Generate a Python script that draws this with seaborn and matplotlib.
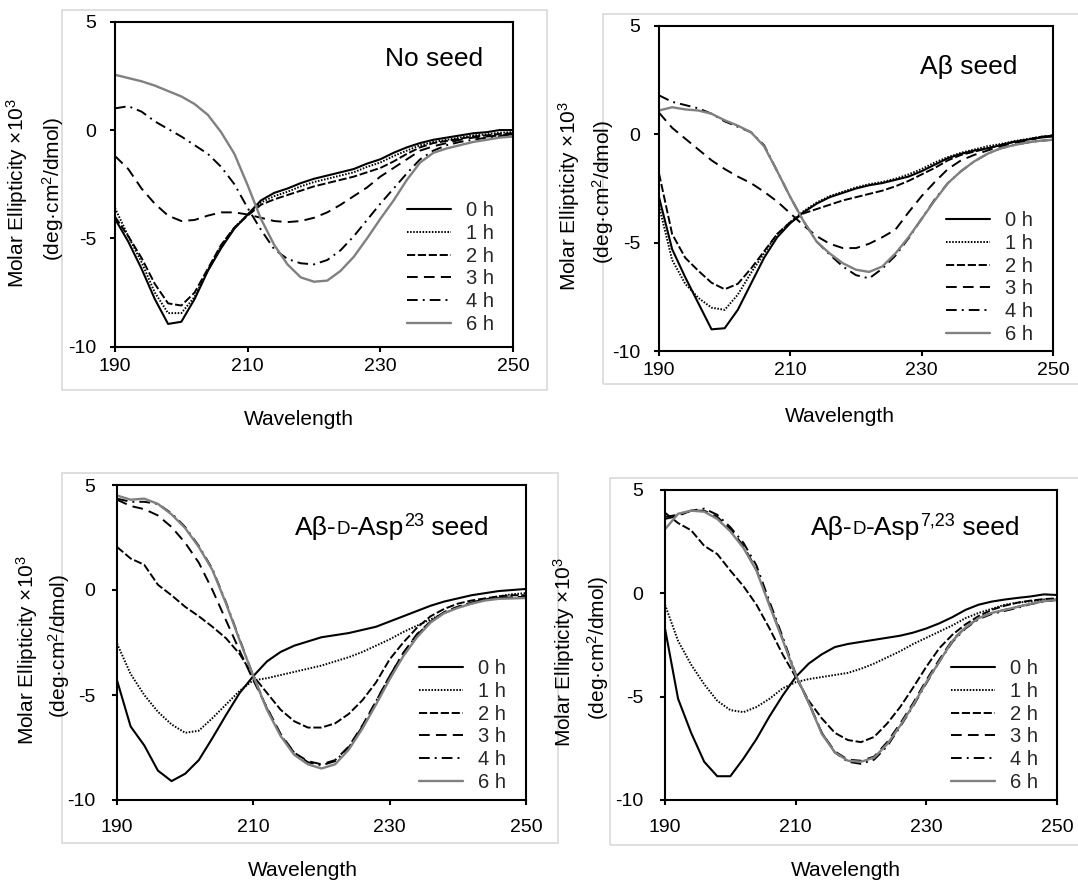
import numpy as np
import pandas as pd
import matplotlib
matplotlib.use("Agg")
import matplotlib.pyplot as plt
from matplotlib.patches import Rectangle
import seaborn as sns

# ---------------- data ----------------
WAVELENGTH = [190, 192, 194, 196, 198, 200, 202, 204, 206, 208, 210, 212, 214, 216, 218, 220,
              222, 224, 226, 228, 230, 232, 234, 236, 238, 240, 242, 244, 246, 248, 250]
TIME_LABELS = ["0 h", "1 h", "2 h", "3 h", "4 h", "6 h"]
X_TICKS = [190, 210, 230, 250]
Y_TICKS = [-10, -5, 0, 5]

# Panel 1: No seed
NOSEED_0H = [-4.1, -5.15, -6.4, -7.8, -8.95, -8.85, -7.8, -6.5, -5.45, -4.55, -3.9, -3.25, -2.9, -2.7, -2.45, -2.25,
             -2.1, -1.95, -1.8, -1.55, -1.35, -1.05, -0.8, -0.6, -0.45, -0.35, -0.25, -0.15, -0.1, 0.0, 0.0]
NOSEED_1H = [-3.6, -4.9, -6.1, -7.5, -8.45, -8.45, -7.7, -6.45, -5.35, -4.5, -3.9, -3.35, -3.05, -2.85, -2.6, -2.4,
             -2.25, -2.1, -1.95, -1.7, -1.5, -1.2, -0.95, -0.7, -0.55, -0.45, -0.35, -0.25, -0.2, -0.12, -0.1]
NOSEED_2H = [-4.0, -4.9, -5.9, -7.1, -8.0, -8.1, -7.5, -6.4, -5.3, -4.5, -3.95, -3.45, -3.2, -3.0, -2.8, -2.6,
             -2.45, -2.3, -2.15, -1.95, -1.75, -1.45, -1.1, -0.8, -0.6, -0.5, -0.4, -0.3, -0.25, -0.18, -0.15]
NOSEED_3H = [-1.2, -1.8, -2.7, -3.4, -3.95, -4.2, -4.15, -3.95, -3.8, -3.8, -3.9, -4.05, -4.2, -4.25, -4.2, -4.05,
             -3.8, -3.45, -3.05, -2.65, -2.15, -1.75, -1.35, -0.95, -0.75, -0.6, -0.45, -0.35, -0.3, -0.25, -0.2]
NOSEED_4H = [1.0, 1.1, 0.85, 0.4, 0.05, -0.3, -0.7, -1.1, -1.7, -2.5, -3.6, -4.6, -5.5, -5.95, -6.15, -6.2,
             -6.0, -5.55, -4.9, -4.15, -3.4, -2.7, -2.0, -1.35, -0.95, -0.7, -0.55, -0.45, -0.35, -0.28, -0.22]
NOSEED_6H = [2.55, 2.4, 2.25, 2.05, 1.8, 1.55, 1.2, 0.7, -0.1, -1.1, -2.55, -4.1, -5.3, -6.2, -6.8, -7.0,
             -6.95, -6.5, -5.85, -5.0, -4.1, -3.25, -2.3, -1.5, -1.05, -0.85, -0.7, -0.55, -0.45, -0.35, -0.3]

# Panel 2: Abeta seed
ABSEED_0H = [-2.9, -5.3, -6.6, -7.8, -9.0, -8.95, -8.1, -6.9, -5.7, -4.75, -4.1, -3.6, -3.2, -2.9, -2.7, -2.5,
             -2.35, -2.25, -2.1, -1.95, -1.7, -1.4, -1.1, -0.9, -0.75, -0.65, -0.5, -0.35, -0.25, -0.15, -0.1]
ABSEED_1H = [-3.3, -5.8, -6.9, -7.55, -8.0, -8.1, -7.4, -6.4, -5.5, -4.6, -4.05, -3.55, -3.15, -2.85, -2.65, -2.45,
             -2.3, -2.2, -2.05, -1.85, -1.6, -1.3, -1.05, -0.85, -0.7, -0.55, -0.45, -0.32, -0.22, -0.12, -0.05]
ABSEED_2H = [-1.8, -4.6, -5.7, -6.3, -6.85, -7.15, -6.9, -6.2, -5.4, -4.6, -4.05, -3.65, -3.45, -3.25, -3.05, -2.9,
             -2.75, -2.6, -2.4, -2.15, -1.85, -1.55, -1.2, -0.95, -0.8, -0.65, -0.5, -0.35, -0.25, -0.12, -0.05]
ABSEED_3H = [1.0, 0.3, -0.2, -0.7, -1.2, -1.6, -1.95, -2.25, -2.65, -3.1, -3.65, -4.2, -4.7, -5.05, -5.25, -5.25,
             -5.05, -4.75, -4.4, -3.6, -2.85, -2.2, -1.6, -1.2, -0.95, -0.75, -0.55, -0.4, -0.3, -0.15, -0.05]
ABSEED_4H = [1.8, 1.5, 1.35, 1.2, 0.95, 0.6, 0.35, 0.1, -0.5, -1.7, -2.9, -4.0, -4.95, -5.55, -6.1, -6.5,
             -6.65, -6.2, -5.6, -4.8, -3.9, -3.0, -2.25, -1.7, -1.25, -0.9, -0.65, -0.5, -0.38, -0.3, -0.25]
ABSEED_6H = [1.1, 1.25, 1.15, 1.1, 0.95, 0.65, 0.4, 0.1, -0.55, -1.7, -2.9, -4.0, -4.95, -5.5, -5.95, -6.25,
             -6.35, -6.1, -5.5, -4.75, -3.9, -3.05, -2.25, -1.7, -1.25, -0.9, -0.65, -0.5, -0.38, -0.3, -0.25]

# Panel 3: Abeta-D-Asp23 seed
ASP23_0H = [-4.3, -6.5, -7.4, -8.6, -9.1, -8.75, -8.1, -7.05, -5.95, -4.9, -4.1, -3.4, -2.95, -2.65, -2.45, -2.25,
            -2.15, -2.05, -1.9, -1.75, -1.5, -1.25, -1.0, -0.75, -0.55, -0.4, -0.25, -0.15, -0.05, 0.0, 0.05]
ASP23_1H = [-2.55, -4.0, -5.0, -5.8, -6.4, -6.8, -6.7, -6.1, -5.45, -4.8, -4.3, -4.2, -4.05, -3.9, -3.75, -3.6,
            -3.4, -3.2, -2.95, -2.65, -2.35, -2.0, -1.7, -1.4, -1.1, -0.85, -0.65, -0.45, -0.3, -0.2, -0.15]
ASP23_2H = [2.05, 1.5, 1.2, 0.25, -0.25, -0.8, -1.25, -1.75, -2.3, -3.05, -4.1, -4.9, -5.7, -6.25, -6.55, -6.55,
            -6.35, -5.9, -5.25, -4.4, -3.3, -2.5, -1.8, -1.25, -0.9, -0.65, -0.5, -0.4, -0.3, -0.25, -0.25]
ASP23_3H = [4.3, 4.0, 3.85, 3.55, 3.0, 2.25, 1.3, 0.0, -1.45, -2.9, -4.3, -5.6, -6.85, -7.75, -8.15, -8.3,
            -8.1, -7.45, -6.45, -5.3, -4.1, -3.0, -2.1, -1.5, -1.05, -0.8, -0.6, -0.45, -0.38, -0.35, -0.33]
ASP23_4H = [4.35, 4.2, 4.2, 4.1, 3.65, 3.0, 2.1, 1.0, -0.6, -2.35, -4.1, -5.65, -6.9, -7.75, -8.2, -8.35,
            -8.15, -7.5, -6.5, -5.3, -4.1, -3.0, -2.15, -1.5, -1.05, -0.8, -0.6, -0.45, -0.38, -0.35, -0.32]
ASP23_6H = [4.5, 4.3, 4.35, 4.1, 3.6, 2.95, 2.05, 0.95, -0.65, -2.4, -4.1, -5.7, -6.95, -7.85, -8.3, -8.5,
            -8.3, -7.6, -6.6, -5.45, -4.25, -3.15, -2.25, -1.55, -1.1, -0.85, -0.65, -0.5, -0.42, -0.4, -0.38]

# Panel 4: Abeta-D-Asp7,23 seed
ASP723_0H = [-1.7, -5.1, -6.75, -8.15, -8.85, -8.85, -8.0, -7.05, -5.95, -4.95, -4.05, -3.4, -2.95, -2.6, -2.45, -2.35,
             -2.25, -2.15, -2.05, -1.9, -1.7, -1.45, -1.15, -0.8, -0.55, -0.4, -0.3, -0.22, -0.15, -0.05, -0.08]
ASP723_1H = [-0.55, -2.3, -3.45, -4.4, -5.2, -5.65, -5.75, -5.5, -5.1, -4.6, -4.3, -4.15, -4.05, -3.95, -3.85, -3.65,
             -3.4, -3.1, -2.8, -2.45, -2.15, -1.85, -1.55, -1.2, -0.95, -0.75, -0.55, -0.45, -0.38, -0.3, -0.27]
ASP723_2H = [3.9, 3.4, 3.05, 2.3, 1.9, 1.1, 0.35, -0.55, -1.7, -2.95, -4.05, -5.2, -6.05, -6.75, -7.1, -7.2,
             -6.95, -6.3, -5.5, -4.55, -3.55, -2.65, -2.0, -1.5, -1.1, -0.8, -0.6, -0.45, -0.35, -0.28, -0.24]
ASP723_3H = [3.6, 3.75, 4.0, 4.0, 3.7, 3.1, 2.3, 1.15, -0.55, -2.2, -3.95, -5.3, -6.75, -7.65, -8.05, -8.1,
             -7.9, -7.2, -6.3, -5.3, -4.2, -3.2, -2.25, -1.65, -1.2, -0.95, -0.8, -0.65, -0.5, -0.38, -0.3]
ASP723_4H = [3.7, 3.8, 4.0, 4.1, 3.8, 3.2, 2.45, 1.35, -0.4, -2.1, -3.9, -5.3, -6.75, -7.7, -8.15, -8.25,
             -8.05, -7.4, -6.45, -5.45, -4.35, -3.3, -2.35, -1.7, -1.25, -1.0, -0.85, -0.7, -0.52, -0.4, -0.32]
ASP723_6H = [3.1, 3.85, 4.0, 3.95, 3.6, 3.0, 2.2, 1.1, -0.6, -2.25, -3.95, -5.3, -6.8, -7.7, -8.1, -8.15,
             -7.95, -7.3, -6.4, -5.4, -4.3, -3.3, -2.3, -1.65, -1.2, -0.95, -0.8, -0.65, -0.5, -0.38, -0.32]

PANEL_SERIES = [
    [NOSEED_0H, NOSEED_1H, NOSEED_2H, NOSEED_3H, NOSEED_4H, NOSEED_6H],
    [ABSEED_0H, ABSEED_1H, ABSEED_2H, ABSEED_3H, ABSEED_4H, ABSEED_6H],
    [ASP23_0H, ASP23_1H, ASP23_2H, ASP23_3H, ASP23_4H, ASP23_6H],
    [ASP723_0H, ASP723_1H, ASP723_2H, ASP723_3H, ASP723_4H, ASP723_6H],
]

# ---------------- style ----------------
sns.set_theme(style="white")
plt.rcParams["font.family"] = ["Liberation Sans", "DejaVu Sans"]
plt.rcParams["mathtext.fontset"] = "custom"
plt.rcParams["mathtext.rm"] = "Liberation Sans"
plt.rcParams["mathtext.it"] = "Liberation Sans:italic"
plt.rcParams["mathtext.bf"] = "Liberation Sans:bold"
plt.rcParams["axes.unicode_minus"] = False

LINE_STYLES = {
    "0 h": dict(color="black", linestyle="-", linewidth=1.5),
    "1 h": dict(color="black", linestyle=(0, (0.8, 0.8)), linewidth=1.4),
    "2 h": dict(color="black", linestyle=(0, (4.2, 1.4)), linewidth=1.4),
    "3 h": dict(color="black", linestyle=(0, (5.5, 3.2)), linewidth=1.4),
    "4 h": dict(color="black", linestyle=(0, (5.5, 2.6, 1.0, 2.6)), linewidth=1.4),
    "6 h": dict(color="#808080", linestyle="-", linewidth=1.7),
}

W, H = 1078, 881
fig = plt.figure(figsize=(W / 100, H / 100), dpi=100)
fig.patch.set_facecolor("white")


def fx(px):
    return px / W


def fy(py):
    return 1 - py / H


PANELS = [
    dict(ax=(115, 21.7, 513, 346.7), frame=(62, 10, 547, 390),
         ylab1=(17.5, 193), ylab2=(53, 189), xlab=(299, 419), leg=(407, 201),
         ypad=9.7, xpad=4.3,
         title=(385, 65.7, [("No seed", 19, 0)])),
    dict(ax=(659, 26, 1053, 351), frame=(603, 14, 1090, 384),
         ylab1=(569, 196), ylab2=(603, 192), xlab=(840, 417), leg=(946, 211),
         ypad=9.7, xpad=4.3,
         title=(920, 74, [("A\u03b2 seed", 19, 0)])),
    dict(ax=(117, 485, 526, 800), frame=(62, 473, 558, 843),
         ylab1=(27.5, 650), ylab2=(59, 646), xlab=(303, 870), leg=(419, 659),
         ypad=11.9, xpad=10,
         title=(295, 535, [("A\u03b2-", 19, 0), ("D", 13.5, 1.2), ("-Asp", 19, -1.2),
                           ("23", 13, 7.3), (" seed", 19, -7.3)])),
    dict(ax=(665, 490, 1057, 800), frame=(610, 478, 1090, 845),
         ylab1=(564, 652), ylab2=(598, 648), xlab=(846, 870), leg=(951, 659),
         ypad=12, xpad=10,
         title=(811, 535, [("A\u03b2-", 19, 0), ("D", 13.5, 1.2), ("-Asp", 19, -1.2),
                           ("7,23", 13, 7.3), (" seed", 19, -7.3)])),
]

for spec, series in zip(PANELS, PANEL_SERIES):
    # light grey chart-area frame
    x0, y0, x1, y1 = spec["frame"]
    fig.add_artist(Rectangle((fx(x0), fy(y1)), (x1 - x0) / W, (y1 - y0) / H,
                             transform=fig.transFigure, fill=False,
                             edgecolor="#d9d9d9", linewidth=1.2, zorder=0))

    l, t, r, b = spec["ax"]
    ax = fig.add_axes([fx(l), fy(b), (r - l) / W, (b - t) / H])

    df = pd.DataFrame({"Wavelength": WAVELENGTH})
    for lab, vals in zip(TIME_LABELS, series):
        df[lab] = vals
    long_df = df.melt(id_vars="Wavelength", var_name="Time", value_name="Ellipticity")

    for lab in TIME_LABELS:
        sub = long_df[long_df["Time"] == lab]
        sns.lineplot(data=sub, x="Wavelength", y="Ellipticity", ax=ax,
                     label=lab, legend=False, **LINE_STYLES[lab])

    ax.set_xlim(190, 250)
    ax.set_ylim(-10, 5)
    ax.set_xticks(X_TICKS)
    ax.set_yticks(Y_TICKS)
    ax.set_xticklabels([str(v) for v in X_TICKS])
    ax.set_yticklabels([str(v) for v in Y_TICKS])
    ax.set_xlabel("")
    ax.set_ylabel("")
    ax.set_facecolor("white")
    for sp in ax.spines.values():
        sp.set_visible(True)
        sp.set_color("black")
        sp.set_linewidth(1.5)
    ax.tick_params(axis="both", which="both", direction="out", length=3.6, width=1.5,
                   color="black", labelcolor="black", labelsize=14,
                   left=True, bottom=True, top=False, right=False)
    ax.tick_params(axis="y", pad=spec["ypad"])
    ax.tick_params(axis="x", pad=spec["xpad"])
    ax.grid(False)

    handles = ax.get_lines()[: len(TIME_LABELS)]
    lx, ly = spec["leg"]
    ax.legend(handles, TIME_LABELS, loc="upper left", bbox_to_anchor=(fx(lx), fy(ly)),
              bbox_transform=fig.transFigure, frameon=False, fontsize=14.5,
              handlelength=2.2, handletextpad=0.75, labelspacing=0.19,
              borderpad=0, borderaxespad=0)

    # y label (two lines)
    x, y = spec["ylab1"]
    fig.text(fx(x), fy(y), "Molar Ellipticity \u00d710$^{3}$", rotation=90,
             ha="center", va="center", fontsize=15, color="black")
    x, y = spec["ylab2"]
    fig.text(fx(x), fy(y), "(deg\u00b7cm$^{2}$/dmol)", rotation=90,
             ha="center", va="center", fontsize=15, color="black")

    # x label
    x, y = spec["xlab"]
    fig.text(fx(x), fy(y), "Wavelength", ha="center", va="center", fontsize=15, color="black")

    # title (rich text built from chained pieces)
    tx, ty, parts = spec["title"]
    prev = None
    for txt, size, dy in parts:
        if prev is None:
            prev = ax.text(fx(tx), fy(ty), txt, transform=fig.transFigure, fontsize=size,
                           ha="left", va="baseline", color="black")
        else:
            prev = ax.annotate(txt, xy=(1, 0), xycoords=prev, xytext=(0, dy),
                               textcoords="offset points", fontsize=size,
                               ha="left", va="bottom", color="black",
                               annotation_clip=False)

fig.savefig("out.png", dpi=100, facecolor="white")
